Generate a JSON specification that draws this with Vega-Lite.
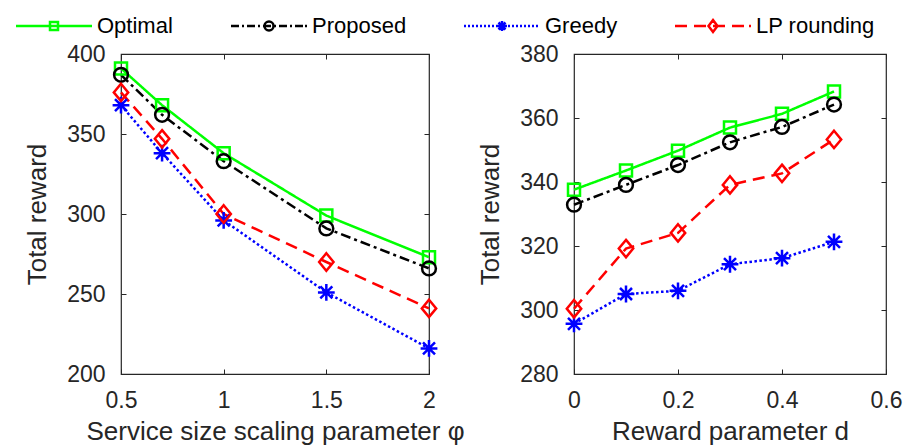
{
  "$schema": "https://vega.github.io/schema/vega-lite/v6.json",
  "padding": {"left": 10, "top": 14, "right": 5, "bottom": 0},
  "datasets": {
    "left": [
      {"method": "Optimal", "x": 0.5, "value": 391},
      {"method": "Optimal", "x": 0.7, "value": 368},
      {"method": "Optimal", "x": 1, "value": 338},
      {"method": "Optimal", "x": 1.5, "value": 299},
      {"method": "Optimal", "x": 2, "value": 273},
      {"method": "Proposed", "x": 0.5, "value": 387},
      {"method": "Proposed", "x": 0.7, "value": 362},
      {"method": "Proposed", "x": 1, "value": 333},
      {"method": "Proposed", "x": 1.5, "value": 291},
      {"method": "Proposed", "x": 2, "value": 266},
      {"method": "Greedy", "x": 0.5, "value": 368},
      {"method": "Greedy", "x": 0.7, "value": 338},
      {"method": "Greedy", "x": 1, "value": 296},
      {"method": "Greedy", "x": 1.5, "value": 251},
      {"method": "Greedy", "x": 2, "value": 216},
      {"method": "LP rounding", "x": 0.5, "value": 376},
      {"method": "LP rounding", "x": 0.7, "value": 347},
      {"method": "LP rounding", "x": 1, "value": 300},
      {"method": "LP rounding", "x": 1.5, "value": 270},
      {"method": "LP rounding", "x": 2, "value": 241}
    ],
    "right": [
      {"method": "Optimal", "x": 0, "value": 337.6},
      {"method": "Optimal", "x": 0.1, "value": 343.6},
      {"method": "Optimal", "x": 0.2, "value": 349.8},
      {"method": "Optimal", "x": 0.3, "value": 357},
      {"method": "Optimal", "x": 0.4, "value": 361.3},
      {"method": "Optimal", "x": 0.5, "value": 368.3},
      {"method": "Proposed", "x": 0, "value": 332.9},
      {"method": "Proposed", "x": 0.1, "value": 339.1},
      {"method": "Proposed", "x": 0.2, "value": 345.3},
      {"method": "Proposed", "x": 0.3, "value": 352.4},
      {"method": "Proposed", "x": 0.4, "value": 357.2},
      {"method": "Proposed", "x": 0.5, "value": 364.2},
      {"method": "Greedy", "x": 0, "value": 295.7},
      {"method": "Greedy", "x": 0.1, "value": 305},
      {"method": "Greedy", "x": 0.2, "value": 306},
      {"method": "Greedy", "x": 0.3, "value": 314.3},
      {"method": "Greedy", "x": 0.4, "value": 316.2},
      {"method": "Greedy", "x": 0.5, "value": 321.3},
      {"method": "LP rounding", "x": 0, "value": 300.4},
      {"method": "LP rounding", "x": 0.1, "value": 319.2},
      {"method": "LP rounding", "x": 0.2, "value": 324.1},
      {"method": "LP rounding", "x": 0.3, "value": 339.1},
      {"method": "LP rounding", "x": 0.4, "value": 342.7},
      {"method": "LP rounding", "x": 0.5, "value": 353.3}
    ]
  },
  "bounds": "flush",
  "spacing": 145,
  "resolve": {"scale": {"shape": "independent", "color": "independent", "strokeDash": "independent", "stroke": "independent"}},
  "hconcat": [
    {
      "width": 308,
      "height": 320,
      "data": {"name": "left"},
      "resolve": {"scale": {"shape": "independent", "stroke": "independent"}, "axis": {"x": "independent", "y": "independent"}},
      "layer": [
        {
          "mark": {"type": "line", "strokeWidth": 2.5},
          "encoding": {
            "x": {"field": "x", "type": "quantitative", "scale": {"domain": [0.5, 2], "nice": false, "zero": false},
                  "axis": {"orient": "bottom", "values": [0.5, 1, 1.5, 2], "format": "~g", "title": "Service size scaling parameter φ", "labelPadding": 20, "titlePadding": 6}},
            "y": {"field": "value", "type": "quantitative", "scale": {"domain": [200, 400], "nice": false, "zero": false},
                  "axis": {"orient": "left", "values": [200, 250, 300, 350, 400], "format": "d", "title": "Total reward", "labelPadding": 21, "titlePadding": 16}},
            "color": {"field": "method", "type": "nominal", "scale": {"domain": ["Optimal", "Proposed", "Greedy", "LP rounding"], "range": ["#00ff00", "#000000", "#0000ff", "#ff0000"]}, "legend": null},
            "strokeDash": {"field": "method", "type": "nominal", "scale": {"domain": ["Optimal", "Proposed", "Greedy", "LP rounding"], "range": [[1, 0], [10, 4, 3, 4], [2.5, 2.5], [12, 7]]}, "legend": null}
          }
        },
        {
          "transform": [{"filter": "datum.method == 'Optimal'"}],
          "mark": {"type": "point", "filled": false, "strokeWidth": 2.5, "size": 144, "opacity": 1, "color": "#00ff00", "shape": "M-1,-1H1V1H-1Z"},
          "encoding": {
            "x": {"field": "x", "type": "quantitative", "axis": {"orient": "top", "values": [0.5, 1, 1.5, 2], "labels": false, "title": null}},
            "y": {"field": "value", "type": "quantitative", "axis": {"orient": "right", "values": [200, 250, 300, 350, 400], "labels": false, "title": null}}
          }
        },
        {
          "transform": [{"filter": "datum.method == 'Proposed'"}],
          "mark": {"type": "point", "filled": false, "strokeWidth": 2.5, "size": 144, "opacity": 1, "color": "#000000", "shape": "M1.15,0A1.15,1.15,0,1,1,-1.15,0A1.15,1.15,0,1,1,1.15,0Z"},
          "encoding": {
            "x": {"field": "x", "type": "quantitative", "axis": null},
            "y": {"field": "value", "type": "quantitative", "axis": null}
          }
        },
        {
          "transform": [{"filter": "datum.method == 'Greedy'"}],
          "mark": {"type": "point", "filled": false, "strokeWidth": 2.5, "size": 144, "opacity": 1, "color": "#0000ff", "shape": "M0,-1.4V1.4M-1.4,0H1.4M-1,-1L1,1M-1,1L1,-1"},
          "encoding": {
            "x": {"field": "x", "type": "quantitative", "axis": null},
            "y": {"field": "value", "type": "quantitative", "axis": null}
          }
        },
        {
          "transform": [{"filter": "datum.method == 'LP rounding'"}],
          "mark": {"type": "point", "filled": false, "strokeWidth": 2.5, "size": 144, "opacity": 1, "color": "#ff0000", "shape": "M0,-1.45L1.2,0L0,1.45L-1.2,0Z"},
          "encoding": {
            "x": {"field": "x", "type": "quantitative", "axis": null},
            "y": {"field": "value", "type": "quantitative", "axis": null}
          }
        },
        {
          "transform": [{"filter": "datum.x == 1"}],
          "mark": {"type": "point", "filled": false, "strokeWidth": 2.5, "size": 100, "opacity": 0},
          "encoding": {
            "x": {"field": "x", "type": "quantitative", "axis": null},
            "y": {"field": "value", "type": "quantitative", "axis": null},
            "shape": {"field": "method", "type": "nominal", "title": null, "scale": {"domain": ["Optimal", "Proposed", "Greedy", "LP rounding"], "range": [
              "M-7.6,0H7.6M-0.8,-0.8H0.8V0.8H-0.8Z",
              "M-7.6,0H-6M-5.4,0H-5M-4.4,0H-2.8M-2.2,0H-1.8M-1.2,0H0.4M1,0H1.4M2,0H3.6M4.2,0H4.6M5.2,0H6.8M7.2,0H7.6M0.9,0A0.9,0.9,0,1,1,-0.9,0A0.9,0.9,0,1,1,0.9,0Z",
              "M-7.6,0H-7.2M-6.8,0H-6.4M-6,0H-5.6M-5.2,0H-4.8M-4.4,0H-4M-3.6,0H-3.2M-2.8,0H-2.4M-2,0H-1.6M-1.2,0H-0.8M-0.4,0H0M0.4,0H0.8M1.2,0H1.6M2,0H2.4M2.8,0H3.2M3.6,0H4M4.4,0H4.8M5.2,0H5.6M6,0H6.4M6.8,0H7.2M0,-1V1M-1,0H1M-0.7,-0.7L0.7,0.7M-0.7,0.7L0.7,-0.7",
              "M-7.6,0H-5.2M-3.8,0H-1.4M0,0H2.4M3.8,0H6.2M7.2,0H7.6M0,-1.2L0.9,0L0,1.2L-0.9,0Z"
            ]}, "legend": {"orient": "none", "legendX": -109.5, "legendY": -39, "direction": "horizontal", "title": null}},
            "stroke": {"field": "method", "type": "nominal", "title": null, "scale": {"domain": ["Optimal", "Proposed", "Greedy", "LP rounding"], "range": ["#00ff00", "#000000", "#0000ff", "#ff0000"]}, "legend": {"orient": "none", "legendX": -109.5, "legendY": -39, "direction": "horizontal", "title": null}}
          }
        }
      ]
    },
    {
      "width": 312,
      "height": 320,
      "data": {"name": "right"},
      "resolve": {"axis": {"x": "independent", "y": "independent"}},
      "layer": [
        {
          "mark": {"type": "line", "strokeWidth": 2.5},
          "encoding": {
            "x": {"field": "x", "type": "quantitative", "scale": {"domain": [0, 0.6], "nice": false, "zero": false},
                  "axis": {"orient": "bottom", "values": [0, 0.2, 0.4, 0.6], "format": "~g", "title": "Reward parameter d", "labelPadding": 20, "titlePadding": 6}},
            "y": {"field": "value", "type": "quantitative", "scale": {"domain": [280, 380], "nice": false, "zero": false},
                  "axis": {"orient": "left", "values": [280, 300, 320, 340, 360, 380], "format": "d", "title": "Total reward", "labelPadding": 21, "titlePadding": 16}},
            "color": {"field": "method", "type": "nominal", "scale": {"domain": ["Optimal", "Proposed", "Greedy", "LP rounding"], "range": ["#00ff00", "#000000", "#0000ff", "#ff0000"]}, "legend": null},
            "strokeDash": {"field": "method", "type": "nominal", "scale": {"domain": ["Optimal", "Proposed", "Greedy", "LP rounding"], "range": [[1, 0], [10, 4, 3, 4], [2.5, 2.5], [12, 7]]}, "legend": null}
          }
        },
        {
          "transform": [{"filter": "datum.method == 'Optimal'"}],
          "mark": {"type": "point", "filled": false, "strokeWidth": 2.5, "size": 144, "opacity": 1, "color": "#00ff00", "shape": "M-1,-1H1V1H-1Z"},
          "encoding": {
            "x": {"field": "x", "type": "quantitative", "axis": {"orient": "top", "values": [0, 0.2, 0.4, 0.6], "labels": false, "title": null}},
            "y": {"field": "value", "type": "quantitative", "axis": {"orient": "right", "values": [280, 300, 320, 340, 360, 380], "labels": false, "title": null}}
          }
        },
        {
          "transform": [{"filter": "datum.method == 'Proposed'"}],
          "mark": {"type": "point", "filled": false, "strokeWidth": 2.5, "size": 144, "opacity": 1, "color": "#000000", "shape": "M1.15,0A1.15,1.15,0,1,1,-1.15,0A1.15,1.15,0,1,1,1.15,0Z"},
          "encoding": {
            "x": {"field": "x", "type": "quantitative", "axis": null},
            "y": {"field": "value", "type": "quantitative", "axis": null}
          }
        },
        {
          "transform": [{"filter": "datum.method == 'Greedy'"}],
          "mark": {"type": "point", "filled": false, "strokeWidth": 2.5, "size": 144, "opacity": 1, "color": "#0000ff", "shape": "M0,-1.4V1.4M-1.4,0H1.4M-1,-1L1,1M-1,1L1,-1"},
          "encoding": {
            "x": {"field": "x", "type": "quantitative", "axis": null},
            "y": {"field": "value", "type": "quantitative", "axis": null}
          }
        },
        {
          "transform": [{"filter": "datum.method == 'LP rounding'"}],
          "mark": {"type": "point", "filled": false, "strokeWidth": 2.5, "size": 144, "opacity": 1, "color": "#ff0000", "shape": "M0,-1.45L1.2,0L0,1.45L-1.2,0Z"},
          "encoding": {
            "x": {"field": "x", "type": "quantitative", "axis": null},
            "y": {"field": "value", "type": "quantitative", "axis": null}
          }
        }
      ]
    }
  ],
  "config": {
    "font": "Liberation Sans",
    "view": {"stroke": "#262626", "strokeWidth": 1.2},
    "axis": {
      "labelFont": "Liberation Sans", "labelFontSize": 23, "labelColor": "#262626", "labelFlush": false,
      "titleFont": "Liberation Sans", "titleFontSize": 26, "titleFontWeight": "normal", "titleColor": "#262626",
      "domain": false, "grid": false, "tickColor": "#262626", "tickSize": -5, "tickWidth": 1
    },
    "legend": {
      "symbolSize": 100, "symbolOffset": 31.5, "labelOffset": 32, "symbolStrokeWidth": 2.5,
      "symbolOpacity": 1, "labelFont": "Liberation Sans", "labelFontSize": 22, "labelColor": "#000000",
      "columnPadding": 52, "padding": 0
    }
  }
}
